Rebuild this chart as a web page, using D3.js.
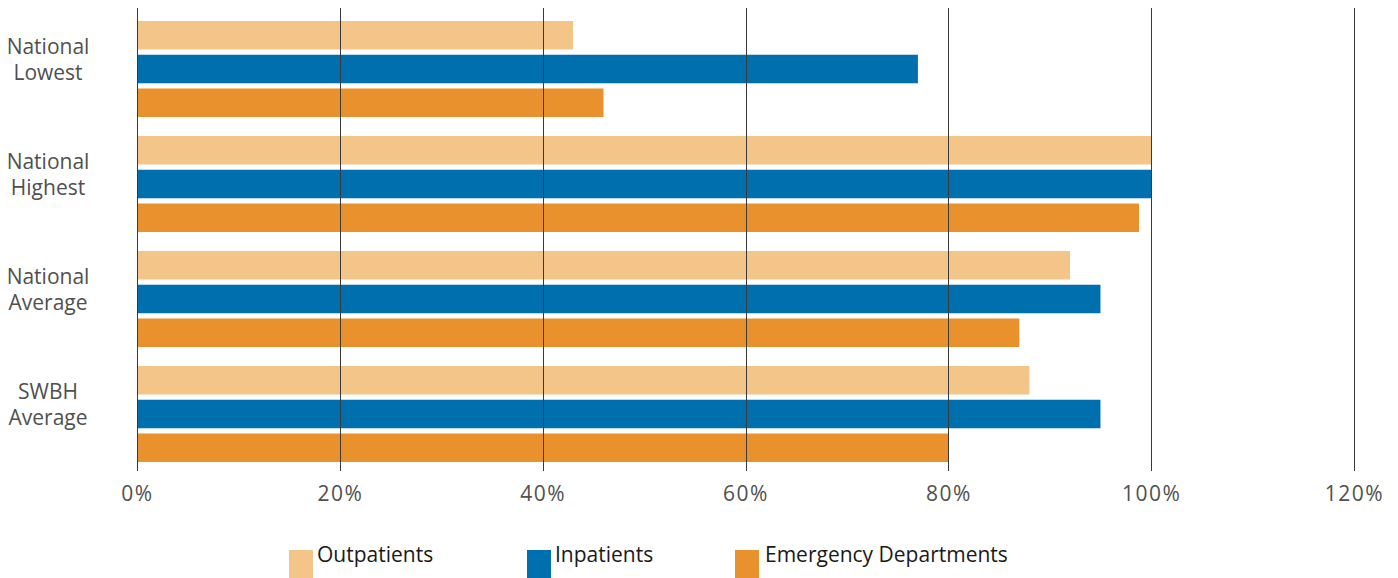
<!DOCTYPE html>
<html>
<head>
<meta charset="utf-8">
<script src="https://cdn.jsdelivr.net/npm/d3@7/dist/d3.min.js"></script>
<style>
  html, body { margin: 0; padding: 0; background: #fff; }
  svg { display: block; font-family: "Open Sans", "Noto Sans", sans-serif; }
</style>
</head>
<body>
<svg id="chart" width="1398" height="578"></svg>
<script>
// Patient groups shown down the vertical axis (two-line labels)
const categories = [
  ["National", "Lowest"],
  ["National", "Highest"],
  ["National", "Average"],
  ["SWBH", "Average"]
];
const seriesNames = ["Outpatients", "Inpatients", "Emergency Departments"];
const seriesColors = ["#F4C589", "#006FAE", "#E9922D"];

// Percentage values per series, in category order
const outpatients = [43, 100, 92, 88];
const inpatients = [77, 100, 95, 95];
const emergency = [46, 98.8, 87, 80];

const tickValues = [0, 20, 40, 60, 80, 100, 120];

const seriesValues = [outpatients, inpatients, emergency];

const svg = d3.select("#chart");
const plotLeft = 137, plotRight = 1354, plotTop = 11.5, plotBottom = 471.5;

const x = d3.scaleLinear().domain([0, 120]).range([plotLeft, plotRight]);
const y = d3.scaleBand().domain(d3.range(categories.length)).range([plotTop, plotBottom]).padding(0);

const groupH = 96;
const inner = d3.scaleBand().domain(d3.range(seriesNames.length))
  .range([0, groupH]).paddingInner(0.155).paddingOuter(0);

// bars
const rows = [];
categories.forEach((c, i) => {
  seriesValues.forEach((vals, s) => rows.push({ i, s, v: vals[i] }));
});

svg.append("g").selectAll("rect").data(rows).join("rect")
  .attr("x", x(0))
  .attr("y", d => y(d.i) + (y.bandwidth() - groupH) / 2 + inner(d.s))
  .attr("width", d => x(d.v) - x(0))
  .attr("height", inner.bandwidth())
  .attr("fill", d => seriesColors[d.s]);

// vertical gridlines drawn over the bars
const xAxis = d3.axisBottom(x).tickValues(tickValues)
  .tickFormat(d => d + "%").tickSize(0).tickPadding(0);

svg.append("g").selectAll("line").data(tickValues).join("line")
  .attr("x1", d => Math.round(x(d)) + 0.5)
  .attr("x2", d => Math.round(x(d)) + 0.5)
  .attr("y1", 8).attr("y2", 471)
  .attr("stroke", "#3a3a3a").attr("stroke-width", 1);

const ax = svg.append("g").attr("transform", `translate(0,${plotBottom})`).call(xAxis);
ax.select(".domain").remove();
ax.selectAll("text")
  .attr("dy", null).attr("y", 29)
  .attr("fill", "#505050")
  .attr("font-size", 21)
  .attr("letter-spacing", 1.5)
  .attr("font-family", "\"Open Sans\", \"Noto Sans\", sans-serif");

// category labels
const labels = svg.append("g").selectAll("text").data(categories).join("text")
  .attr("text-anchor", "middle")
  .attr("fill", "#505050")
  .attr("font-size", 21);
labels.each(function (d, i) {
  const cy = y(i) + y.bandwidth() / 2;
  d3.select(this).selectAll("tspan").data(d).join("tspan")
    .attr("x", 48)
    .attr("y", (t, k) => cy - 15 + k * 26)
    .text(t => t);
});

// legend
const legendX = [289, 527, 735];
const lg = svg.append("g").selectAll("g").data(seriesNames).join("g")
  .attr("transform", (d, i) => `translate(${legendX[i]},0)`);
lg.append("rect").attr("x", 0).attr("y", 550).attr("width", 24).attr("height", 28)
  .attr("fill", (d, i) => seriesColors[i]);
lg.append("text").attr("x", (d, i) => i === 2 ? 30 : 28).attr("y", 562)
  .attr("fill", "#1a1a1a").attr("font-size", 21)
  .text(d => d);
</script>
</body>
</html>
